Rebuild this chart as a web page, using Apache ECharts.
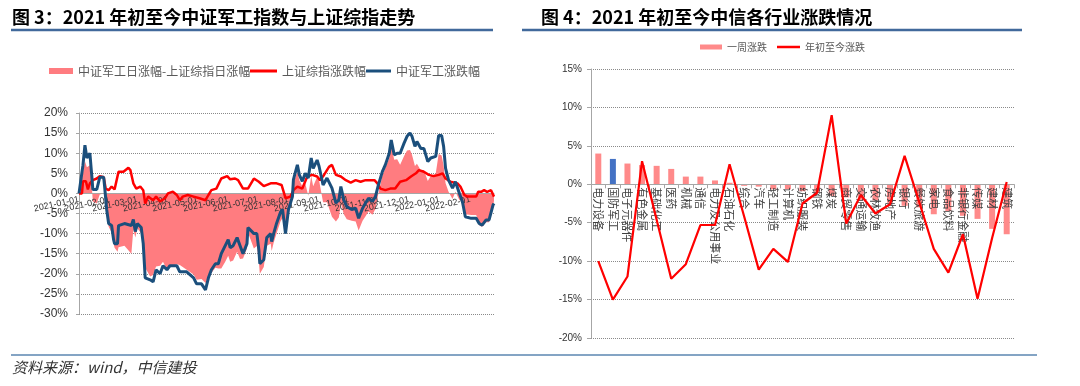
<!DOCTYPE html>
<html><head><meta charset="utf-8">
<script src="https://cdn.jsdelivr.net/npm/echarts@6/dist/echarts.min.js"></script>
<style>html,body{margin:0;padding:0;background:#fff}#c{width:1080px;height:386px}</style>
</head><body><div id="c"></div>
<script>
// ---------- Left chart data ----------
const junDates = [
'2021-01-01','2021-01-05','2021-01-07','2021-01-09','2021-01-12','2021-01-14','2021-01-15','2021-01-19','2021-01-22','2021-01-26',
'2021-01-27','2021-01-29','2021-01-31','2021-02-03','2021-02-05','2021-02-06','2021-02-09','2021-02-10','2021-02-16','2021-02-23',
'2021-02-25','2021-02-27','2021-03-01','2021-03-05','2021-03-07','2021-03-09','2021-03-14','2021-03-17','2021-03-20','2021-03-24',
'2021-03-27','2021-03-31','2021-04-03','2021-04-10','2021-04-13','2021-04-20','2021-04-27','2021-04-30','2021-05-05','2021-05-09',
'2021-05-12','2021-05-15','2021-05-19','2021-05-22','2021-05-25','2021-05-29','2021-06-01','2021-06-03','2021-06-06','2021-06-10',
'2021-06-13','2021-06-16','2021-06-20','2021-06-21','2021-06-27','2021-06-30','2021-07-02','2021-07-03','2021-07-07','2021-07-10',
'2021-07-14','2021-07-15','2021-07-17','2021-07-20','2021-07-24','2021-07-26','2021-07-29','2021-08-01','2021-08-05','2021-08-06',
'2021-08-10','2021-08-12','2021-08-15','2021-08-18','2021-08-21','2021-08-24','2021-08-26','2021-08-30','2021-09-01','2021-09-05',
'2021-09-09','2021-09-14','2021-09-18','2021-09-21','2021-09-23','2021-09-26','2021-09-29','2021-10-04','2021-10-08','2021-10-11',
'2021-10-15','2021-10-18','2021-10-21','2021-10-25','2021-10-28','2021-10-31','2021-11-04','2021-11-07','2021-11-11','2021-11-13',
'2021-11-16','2021-11-19','2021-11-22','2021-11-26','2021-11-29','2021-12-02','2021-12-04','2021-12-07','2021-12-09','2021-12-13',
'2021-12-16','2021-12-20','2021-12-23','2021-12-28','2021-12-31','2022-01-03','2022-01-05','2022-01-07','2022-01-10','2022-01-14',
'2022-01-17','2022-01-21','2022-01-24','2022-01-27','2022-02-02','2022-02-07','2022-02-10','2022-02-13','2022-02-17','2022-02-20',
'2022-02-24','2022-02-25'];
// 中证军工涨跌幅 (%)
const junVals = [
0,7,12,8.8,10,4.2,1,1,4,4,
1.5,-4,-7.5,-8,-11.5,-12.5,-12.5,-8,-7.5,-8,
-6.5,-9.5,-7.5,-8.5,-12.5,-21,-21.5,-22,-19,-20,
-18,-19,-18,-18,-19.5,-19.5,-21,-22.5,-22.5,-24,
-21,-19,-17.5,-17.5,-15,-13,-11.5,-13.5,-13,-11,
-13,-15,-12.5,-8.5,-10,-10,-14,-17.5,-16.5,-11,
-10,-12,-10,-7.4,-4.6,-4,-10,-4,-0.8,3.4,
7.1,4.6,3,5,3.8,8.8,6.2,8.3,6.7,2.1,
3.8,1.3,-2.4,-1.6,1.7,-1.6,-3.3,-4,-3.7,-6.2,
-3.7,-2.4,-1.2,-2,-0.8,2.1,5.4,7.1,10,13.3,
9.6,10,10,12.5,14.2,15,14.2,11.7,12.9,11.2,
11.2,7.9,8.8,9.2,14.4,14.4,11.7,6.2,3.3,1.3,
2.9,0,-2,-5.8,-6.2,-6.2,-7.5,-7.9,-6.6,-6.6,
-2.9,-2.5];
// 中证军工日涨幅-上证综指日涨幅 (cumulative, %)
const diffVals = [
0,5,8,6.5,7,1.5,-2,-2.5,-0.3,0,
-1,-5,-8.3,-9.7,-12.5,-13.5,-14.5,-13.4,-13,-15,
-9,-11,-8.7,-10,-13.3,-18.5,-20.7,-20.3,-18.2,-18,
-17,-19,-18.2,-17.6,-17.8,-19,-20.2,-21.5,-21.3,-22.3,
-20.6,-19.8,-18.5,-18.7,-18.7,-17,-15.5,-17,-16.7,-14.5,
-16.3,-16.2,-13.7,-9.7,-13.7,-13.1,-16.9,-20,-18.3,-13,
-12.5,-14.3,-12.3,-9.9,-6.9,-6.1,-8.8,-3.4,-0.3,2.6,
5.4,3.3,1.8,2.5,-0.6,4.3,1.8,4.1,3.2,-2.2,
-2.2,-5.8,-7,-6,-2.5,-5.2,-6.4,-6.8,-7,-9.2,
-6.8,-5.7,-4.5,-5.3,-3.8,0,4.4,6.3,8.8,12,
8.4,8.5,7.1,9.3,10.7,10.8,9.6,6.8,7.4,5.7,
5.8,3.1,4.3,4.9,9.8,9.4,6.9,2.5,0.4,-1.4,
0.4,-1.7,-1.5,-5.2,-5.4,-5.4,-7.9,-8.3,-7.2,-7.2,
-3.6,-1.8];
// 上证综指涨跌幅 (%)
const shDates = [
'2021-01-01','2021-01-04','2021-01-05','2021-01-08','2021-01-10','2021-01-12','2021-01-15','2021-01-19','2021-01-22','2021-01-26',
'2021-01-28','2021-01-31','2021-02-03','2021-02-06','2021-02-10','2021-02-15','2021-02-20','2021-02-22','2021-02-25','2021-02-28',
'2021-03-04','2021-03-07','2021-03-09','2021-03-12','2021-03-17','2021-03-20','2021-03-24','2021-03-29','2021-04-01','2021-04-06',
'2021-04-10','2021-04-13','2021-04-16','2021-04-21','2021-04-27','2021-05-03','2021-05-09','2021-05-12','2021-05-15','2021-05-20',
'2021-05-25','2021-05-31','2021-06-03','2021-06-08','2021-06-11','2021-06-16','2021-06-21','2021-06-27','2021-07-02','2021-07-07',
'2021-07-14','2021-07-16','2021-07-20','2021-07-25','2021-07-29','2021-08-03','2021-08-06','2021-08-10','2021-08-15','2021-08-20',
'2021-08-25','2021-08-30','2021-09-02','2021-09-06','2021-09-11','2021-09-14','2021-09-18','2021-09-23','2021-09-28','2021-10-03',
'2021-10-08','2021-10-13','2021-10-18','2021-10-23','2021-10-27','2021-10-30','2021-11-02','2021-11-07','2021-11-12','2021-11-17',
'2021-11-22','2021-11-28','2021-12-03','2021-12-08','2021-12-11','2021-12-16','2021-12-21','2021-12-26','2021-12-31','2022-01-04',
'2022-01-07','2022-01-12','2022-01-19','2022-01-22','2022-01-26','2022-01-29','2022-02-04','2022-02-07','2022-02-09','2022-02-12',
'2022-02-15','2022-02-18','2022-02-22','2022-02-25'];
const shVals = [
0,0,3,3,1,2.5,3.3,3.7,4.3,4,
1.2,0.8,1.7,1,5.4,5.4,6.4,5.8,2.5,1.2,
1.7,0.8,-2.5,-0.8,-1.7,-0.8,-2,-1.2,0,0.4,
-0.4,-1.7,-0.8,-0.4,-0.8,-1.2,-1.7,-0.4,0.8,1.2,
3.7,4.3,3.5,3.7,3.3,1.2,1.2,3.7,2.9,1.8,
2.5,2.1,2.5,2.1,-1.2,-0.8,0.8,1.7,1.2,4.2,
4.6,4.2,3.3,4.6,6.6,7.1,4.6,4.2,3.3,2.7,
3.3,2.9,3.3,3.3,3.3,2.5,1.2,0.8,1.2,1.2,
2.9,3.3,4.2,5,5.8,5.4,4.6,4.3,4.6,5,
3.7,2.9,2.5,1.7,-0.4,-0.8,-0.8,-0.8,0.4,0.4,
0.8,0.4,0.8,-0.8];

// ---------- Right chart data ----------
const industries = ['电力设备','国防军工','电子元器件','有色金属','基础化工','医药','机械','通信','电力及公用事业','石油石化',
'综合','汽车','轻工制造','计算机','纺织服装','钢铁','煤炭','商贸零售','交通运输','农林牧渔',
'房地产','银行','餐饮旅游','家电','食品饮料','非银行金融','传媒','建材','建筑'];
const weekChange = [4.0,3.3,2.7,2.5,2.4,2.0,1.0,1.0,0.5,0.2,
-0.2,-0.3,-0.65,-0.65,-0.9,-1.0,-1.5,-1.7,-2.1,-2.1,
-2.4,-2.8,-3.0,-3.9,-3.5,-4.1,-4.5,-5.8,-6.5];
const ytdChange = [-10.0,-15.0,-12.0,3.0,-4.6,-12.3,-10.4,-5.3,-5.3,2.6,
-4.2,-11.1,-8.4,-10.1,-2.5,-1.1,9.0,-5.1,-1.4,-3.8,
-2.6,3.7,-2.3,-8.4,-11.5,-6.5,-14.9,-7.0,0.3];
const leftYTicks = {min:-30, max:20, step:5};
const rightYTicks = {min:-20, max:15, step:5};

const FONT = '"Noto Sans CJK SC", sans-serif';
const NUM = '"Liberation Sans", Arial, sans-serif';
const pair = (ds, vs) => ds.map((d, i) => [d, vs[i]]);

// grid geometry
const G1 = {left:79, top:113, width:415, height:201};
const G2 = {left:591, top:69, width:423, height:269};
// move each x axis (line + labels) up to the y = 0 level
const off1 = -G1.height * (0 - leftYTicks.min) / (leftYTicks.max - leftYTicks.min);
const off2 = -G2.height * (0 - rightYTicks.min) / (rightYTicks.max - rightYTicks.min);

const chart = echarts.init(document.getElementById('c'));
const gridLine = {lineStyle:{type:'dotted', color:'#8a8a8a', width:1}};
const legendText = {fontSize:12, color:'#595959', fontFamily:FONT};
const legendText2 = {fontSize:10, color:'#595959', fontFamily:FONT};

chart.setOption({
  animation:false,
  grid:[G1, G2],
  legend:[
    {data:['中证军工日涨幅-上证综指日涨幅'], left:49, top:65, padding:0, icon:'rect', itemWidth:24, itemHeight:6, textStyle:legendText},
    {data:['上证综指涨跌幅'], left:250, top:65, padding:0, icon:'rect', itemWidth:27, itemHeight:3, textStyle:legendText},
    {data:['中证军工涨跌幅'], left:366, top:65, padding:0, icon:'rect', itemWidth:25, itemHeight:3, textStyle:legendText},
    {data:['一周涨跌'], left:700, top:42, padding:0, icon:'rect', itemWidth:22, itemHeight:5, textStyle:legendText2},
    {data:['年初至今涨跌'], left:777, top:42, padding:0, icon:'rect', itemWidth:23, itemHeight:2.5, textStyle:legendText2}
  ],
  xAxis:[
    {type:'time', gridIndex:0, min:'2021-01-01', max:'2022-02-25', splitNumber:14, offset:off1, z:5,
     axisLine:{onZero:false, lineStyle:{color:'#a6a6a6'}}, axisTick:{show:false}, splitLine:{show:false},
     axisLabel:{rotate:12, fontSize:9, color:'#333', margin:6, fontFamily:NUM, showMaxLabel:false,
       formatter:v => echarts.time.format(v, '{yyyy}-{MM}-{dd}', false)}},
    {type:'category', gridIndex:1, data:industries, offset:off2, z:5,
     axisLine:{onZero:false, lineStyle:{color:'#a6a6a6'}},
     axisTick:{show:true, interval:0, length:4, lineStyle:{color:'#a6a6a6'}},
     axisLabel:{rotate:-90, interval:0, fontSize:11, color:'#404040', margin:3, fontFamily:FONT}}
  ],
  yAxis:[
    {type:'value', gridIndex:0, min:leftYTicks.min, max:leftYTicks.max, interval:leftYTicks.step,
     axisLine:{show:true, lineStyle:{color:'#a6a6a6'}}, axisTick:{show:true, length:3, lineStyle:{color:'#a6a6a6'}},
     axisLabel:{formatter:'{value}%', fontSize:12, color:'#333', margin:11, fontFamily:NUM}, splitLine:gridLine},
    {type:'value', gridIndex:1, min:rightYTicks.min, max:rightYTicks.max, interval:rightYTicks.step,
     axisLine:{show:true, lineStyle:{color:'#a6a6a6'}}, axisTick:{show:true, length:4, lineStyle:{color:'#a6a6a6'}},
     axisLabel:{formatter:'{value}%', fontSize:10, color:'#333', margin:9, fontFamily:NUM}, splitLine:gridLine}
  ],
  series:[
    {name:'中证军工日涨幅-上证综指日涨幅', type:'line', xAxisIndex:0, yAxisIndex:0, data:pair(junDates, diffVals), z:2,
     showSymbol:false, color:'#ff7c80', itemStyle:{color:'#ff7c80'}, lineStyle:{width:0, opacity:0},
     areaStyle:{color:'#ff7c80', opacity:1}},
    {name:'上证综指涨跌幅', type:'line', xAxisIndex:0, yAxisIndex:0, data:pair(shDates, shVals), z:6,
     showSymbol:false, color:'#ff0000', itemStyle:{color:'#ff0000'}, lineStyle:{width:2.5, color:'#ff0000'}},
    {name:'中证军工涨跌幅', type:'line', xAxisIndex:0, yAxisIndex:0, data:pair(junDates, junVals), z:7,
     showSymbol:false, color:'#1b4f7c', itemStyle:{color:'#1b4f7c'}, lineStyle:{width:3, color:'#1b4f7c'}},
    {name:'一周涨跌', type:'bar', xAxisIndex:1, yAxisIndex:1, barWidth:6, color:'#ff8a8a', itemStyle:{color:'#ff8a8a'}, z:2,
     data:weekChange.map((v, i) => industries[i] === '国防军工' ? {value:v, itemStyle:{color:'#4472c4'}} : v)},
    {name:'年初至今涨跌', type:'line', xAxisIndex:1, yAxisIndex:1, data:ytdChange, showSymbol:false, z:6,
     color:'#ff0000', itemStyle:{color:'#ff0000'}, lineStyle:{width:2.2, color:'#ff0000'}}
  ],
  graphic:[
    {type:'text', x:12, y:17, style:{text:'图 3：2021 年初至今中证军工指数与上证综指走势', font:'bold 18px "Noto Sans CJK SC"', fill:'#000', verticalAlign:'middle'}},
    {type:'text', x:541, y:17, style:{text:'图 4：2021 年初至今中信各行业涨跌情况', font:'bold 18px "Noto Sans CJK SC"', fill:'#000', verticalAlign:'middle'}},
    {type:'line', shape:{x1:11, y1:30, x2:493, y2:30}, style:{stroke:'#41699b', lineWidth:2.5}},
    {type:'line', shape:{x1:522, y1:30, x2:1022, y2:30}, style:{stroke:'#41699b', lineWidth:2.5}},
    {type:'line', shape:{x1:11, y1:355, x2:1037, y2:355}, style:{stroke:'#5b86b0', lineWidth:1.5}},
    {type:'text', x:12, y:367, style:{text:'资料来源：wind，中信建投', font:'italic 15px "Noto Sans CJK SC"', fill:'#333', verticalAlign:'middle'}}
  ]
});
</script></body></html>
